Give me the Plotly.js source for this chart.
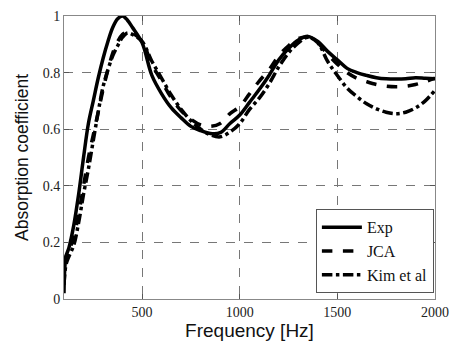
<!DOCTYPE html>
<html>
<head>
<meta charset="utf-8">
<script src="https://cdn.plot.ly/plotly-3.0.1.min.js"></script>
<style>html,body{margin:0;padding:0;background:#fff;}#chart{width:453px;height:343px;}</style>
</head>
<body>
<div id="chart"></div>
<script>
const freq = [100,110,125,150,175,200,225,250,275,300,325,350,375,400,425,450,500,550,600,650,700,750,800,850,900,950,1000,1050,1100,1150,1200,1250,1300,1350,1400,1450,1500,1550,1600,1650,1700,1750,1800,1850,1900,1950,2000];
const expVals = [0.02,0.15,0.18,0.26,0.37,0.50,0.62,0.70,0.78,0.85,0.91,0.96,0.99,1.0,0.985,0.96,0.905,0.79,0.725,0.675,0.64,0.61,0.595,0.585,0.588,0.62,0.65,0.695,0.74,0.79,0.845,0.885,0.915,0.928,0.91,0.875,0.845,0.815,0.80,0.79,0.782,0.778,0.777,0.778,0.782,0.78,0.778];
const jcaVals = [0.12,0.15,0.17,0.22,0.30,0.40,0.50,0.58,0.66,0.74,0.81,0.87,0.91,0.935,0.945,0.94,0.91,0.83,0.77,0.71,0.665,0.635,0.615,0.61,0.62,0.655,0.68,0.725,0.77,0.81,0.86,0.895,0.92,0.925,0.905,0.865,0.83,0.80,0.78,0.768,0.758,0.752,0.75,0.752,0.758,0.768,0.78];
const kimVals = [0.05,0.12,0.15,0.19,0.27,0.37,0.46,0.56,0.66,0.75,0.81,0.86,0.895,0.925,0.94,0.935,0.91,0.84,0.78,0.72,0.67,0.63,0.60,0.58,0.573,0.59,0.62,0.67,0.71,0.76,0.82,0.87,0.905,0.925,0.905,0.84,0.79,0.745,0.715,0.69,0.672,0.66,0.655,0.66,0.675,0.70,0.738];
const seriesNames = ["Exp","JCA","Kim et al"];
const xTicks = [500,1000,1500,2000];
const yTicks = [0,0.2,0.4,0.6,0.8,1];

const dashes = ["solid","dash","dashdot"];
const vals = [expVals, jcaVals, kimVals];
const traces = vals.map((v,i)=>({
  x: freq, y: v, name: seriesNames[i], type:"scatter", mode:"lines",
  line:{color:"#000", width:3.5, dash:dashes[i], shape:"spline"}
}));

const layout = {
  width:453, height:343,
  margin:{l:64, r:18, t:16, b:44},
  paper_bgcolor:"#fff", plot_bgcolor:"#fff",
  showlegend:true,
  legend:{x:0.997, y:0.02, xanchor:"right", yanchor:"bottom",
    bgcolor:"#fff", bordercolor:"#555", borderwidth:1,
    font:{family:"Liberation Serif, Times New Roman, serif", size:16, color:"#111"},
    tracegroupgap:0, itemwidth:40},
  xaxis:{range:[100,2000], tickvals:xTicks, ticktext:xTicks.map(String),
    showgrid:true, gridcolor:"#777", griddash:"dash", gridwidth:1,
    zeroline:false, showline:true, linecolor:"#888", linewidth:1, mirror:"ticks",
    ticks:"inside", ticklen:5, tickcolor:"#555",
    tickfont:{family:"Liberation Serif, Times New Roman, serif", size:14, color:"#222"},
    title:{text:"Frequency [Hz]", font:{family:"Liberation Sans, Arial, sans-serif", size:19, color:"#111"}, standoff:4}},
  yaxis:{range:[0,1], tickvals:yTicks, ticktext:yTicks.map(String),
    showgrid:true, gridcolor:"#777", griddash:"dash", gridwidth:1,
    zeroline:false, showline:true, linecolor:"#888", linewidth:1, mirror:"ticks",
    ticks:"inside", ticklen:5, tickcolor:"#555",
    tickfont:{family:"Liberation Serif, Times New Roman, serif", size:14, color:"#222"},
    title:{text:"Absorption coefficient", font:{family:"Liberation Sans, Arial, sans-serif", size:17.5, color:"#111"}, standoff:9}}
};
Plotly.newPlot("chart", traces, layout, {displayModeBar:false, staticPlot:true});
</script>
</body>
</html>
